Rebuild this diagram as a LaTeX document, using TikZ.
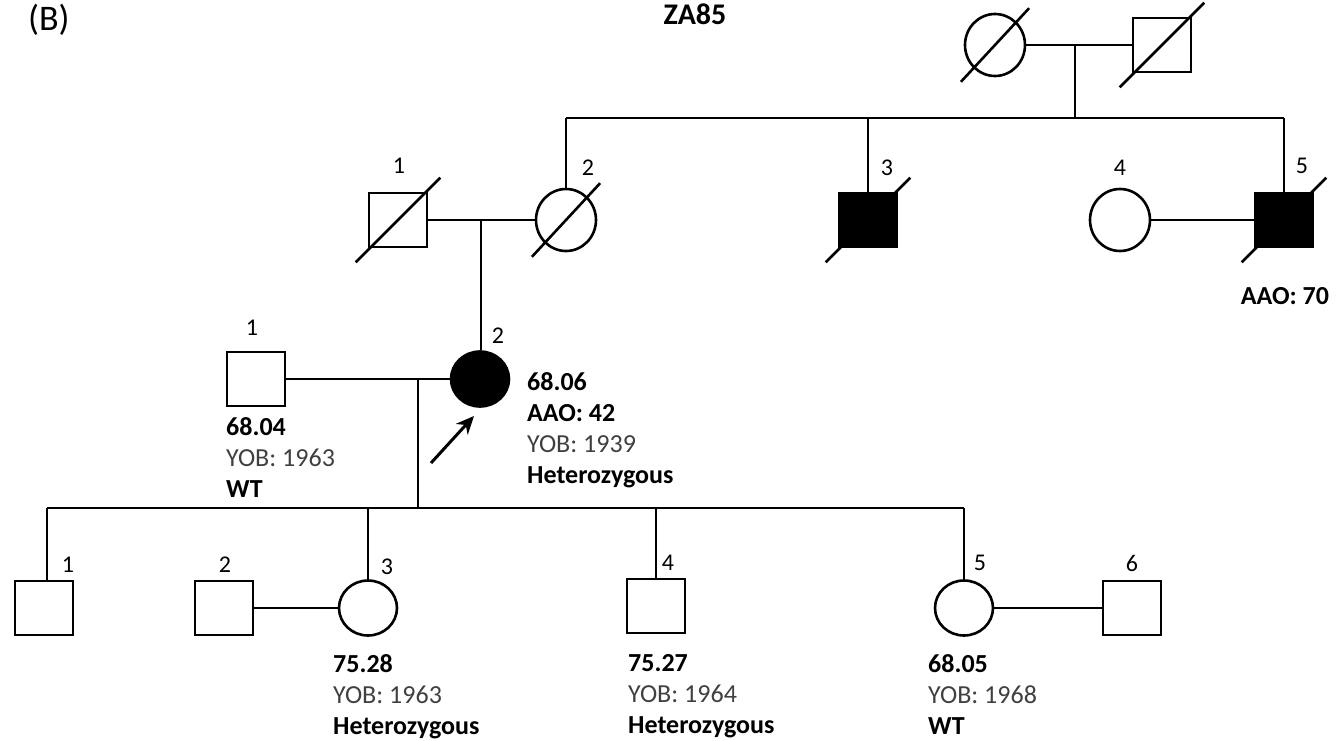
\documentclass[tikz,border=0pt]{standalone}
\usepackage{fontspec}
\setmainfont{Carlito}
\usetikzlibrary{shapes.geometric,calc,arrows.meta}
\definecolor{yobgray}{HTML}{404040}
\begin{document}
\begin{tikzpicture}[x=1pt,y=-1pt,
  ln/.style={line width=2.6pt},
  sq/.style={draw,line width=2.6pt,rectangle,minimum width=58pt,minimum height=54pt,inner sep=0pt},
  ci/.style={draw,line width=2.6pt,ellipse,minimum width=60pt,minimum height=62pt,inner sep=0pt},
  cis/.style={ci,minimum width=58pt,minimum height=55pt},
  aff/.style={fill=black},
  lab/.style={font=\fontsize{24}{28}\selectfont,inner sep=0pt},
  info/.style={font=\fontsize{26}{31}\selectfont,align=left,anchor=north west,inner sep=0pt},
]
\useasboundingbox (0,0) rectangle (1336,741);
\newcommand{\dsl}[1]{\draw[ln] ($(#1.south west)+(-12,14)$) -- ($(#1.north east)+(12,-14)$);}

% titles
\node[font=\fontsize{36}{40}\selectfont,anchor=west,inner sep=0pt] (ttlB) at (28,20) {(B)};
\node[font=\fontsize{30}{34}\selectfont\bfseries,inner sep=0pt] (ttl) at (695,14) {ZA85};

% Generation I
\node[ci] (a1) at (995,45) {};
\node[sq] (a2) at (1162,45) {};
\dsl{a1}\dsl{a2}
\coordinate (am) at (1075,45);
\coordinate (as) at (1075,118);
\draw[ln] (a1.east) -- (a2.west);
\draw[ln] (am) -- (as);
\coordinate (sL) at (566,118);
\coordinate (s3) at (868,118);
\coordinate (sR) at (1284,118);
\draw[ln] (sL) -- (sR);

% Generation II
\node[sq] (b1) at (398,220) {};
\node[ci] (b2) at (566,220) {};
\node[sq,aff] (b3) at (868,220) {};
\node[ci] (b4) at (1120,220) {};
\node[sq,aff] (b5) at (1284,220) {};
\dsl{b1}\dsl{b2}\dsl{b3}\dsl{b5}
\node[lab] (lb1) at (399,166) {1};
\node[lab] (lb2) at (588,168) {2};
\node[lab] (lb3) at (887,168) {3};
\node[lab] (lb4) at (1120,168) {4};
\node[lab] (lb5) at (1302,166) {5};
\draw[ln] (sL) -- (b2.north);
\draw[ln] (s3) -- (b3.north);
\draw[ln] (sR) -- (b5.north);
\draw[ln] (b1.east) -- (b2.west);
\draw[ln] (b4.east) -- (b5.west);
\coordinate (bm) at (481,220);
\node[font=\fontsize{26}{31}\selectfont\bfseries,inner sep=0pt] (aao5) at (1285,296) {AAO: 70};

% Generation III
\node[sq] (c1) at (256,379) {};
\node[cis,aff] (c2) at (480,379) {};
\node[lab] (lc1) at (252,328) {1};
\node[lab] (lc2) at (498,336) {2};
\draw[ln] (bm) -- (c2.north -| bm);
\draw[ln] (c1.east) -- (c2.west);
\coordinate (cm) at (418,379);
\coordinate (cs) at (418,508);
\draw[ln] (cm) -- (cs);
\coordinate (arT) at (474,416);
\coordinate (arS) at (431,463);
\draw[line width=3pt,-{Stealth[length=18pt,width=16pt]}] (arS) -- (arT);
\node[info] (ic1) at (226,417) {\textbf{68.04}\\\textcolor{yobgray}{YOB: 1963}\\\textbf{WT}};
\node[info] (ic2) at (527,372) {\textbf{68.06}\\\textbf{AAO: 42}\\\textcolor{yobgray}{YOB: 1939}\\\textbf{Heterozygous}};

% Generation IV
\coordinate (dL) at (47,508);
\coordinate (d3) at (368,508);
\coordinate (d4) at (656,508);
\coordinate (dR) at (964,508);
\draw[ln] (dL) -- (dR);
\node[sq] (d1n) at (44,608) {};
\node[sq] (d2n) at (224,608) {};
\node[cis] (d3n) at (368,608) {};
\node[sq] (d4n) at (656,606) {};
\node[cis] (d5n) at (964,608) {};
\node[sq] (d6n) at (1132,608) {};
\draw[ln] (dL) -- (dL |- d1n.north);
\draw[ln] (d3) -- (d3n.north);
\draw[ln] (d4) -- (d4n.north);
\draw[ln] (dR) -- (d5n.north);
\draw[ln] (d2n.east) -- (d3n.west);
\draw[ln] (d5n.east) -- (d6n.west);
\node[lab] (ld1) at (68,565) {1};
\node[lab] (ld2) at (225,565) {2};
\node[lab] (ld3) at (387,567) {3};
\node[lab] (ld4) at (668,563) {4};
\node[lab] (ld5) at (980,563) {5};
\node[lab] (ld6) at (1132,563) {6};
\node[info] (id3) at (333,654) {\textbf{75.28}\\\textcolor{yobgray}{YOB: 1963}\\\textbf{Heterozygous}};
\node[info] (id4) at (628,654) {\textbf{75.27}\\\textcolor{yobgray}{YOB: 1964}\\\textbf{Heterozygous}};
\node[info] (id5) at (928,654) {\textbf{68.05}\\\textcolor{yobgray}{YOB: 1968}\\\textbf{WT}};
\end{tikzpicture}
\end{document}
